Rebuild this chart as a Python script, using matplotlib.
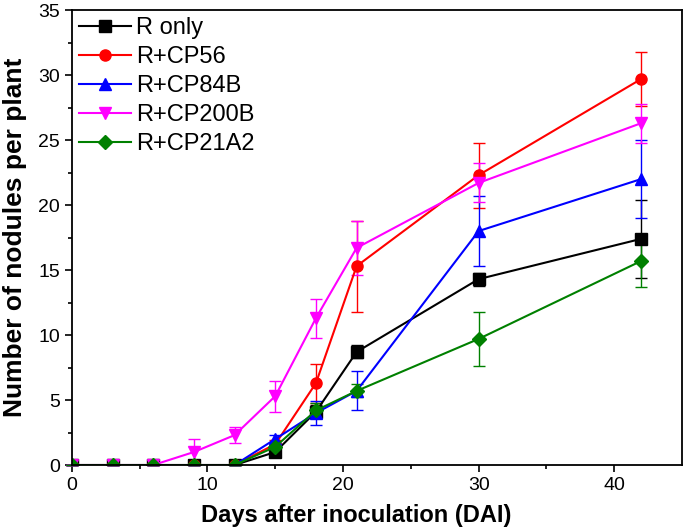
import matplotlib.pyplot as plt
import numpy as np

plt.rcParams['font.family'] = ['Liberation Sans', 'DejaVu Sans']

# Nodule counts per treatment (mean and error)
days = [0, 3, 6, 9, 12, 15, 18, 21, 30, 42]
r_only = [0, 0, 0, 0, 0, 1.0, 4.1, 8.7, 14.3, 17.4]
r_only_err = [0, 0, 0, 0, 0, 0.3, 0.5, 0.5, 0.5, 3.0]
cp56 = [0, 0, 0, 0, 0, 1.6, 6.3, 15.3, 22.3, 29.7]
cp56_err = [0, 0, 0, 0, 0, 0.3, 1.5, 3.5, 2.5, 2.1]
cp84b = [0, 0, 0, 0, 0, 2.0, 4.0, 5.7, 18.0, 22.0]
cp84b_err = [0, 0, 0, 0, 0, 0.3, 0.9, 1.5, 2.7, 3.0]
cp200b = [0, 0, 0, 1.0, 2.3, 5.3, 11.3, 16.7, 21.7, 26.3]
cp200b_err = [0, 0, 0, 1.0, 0.6, 1.2, 1.5, 2.1, 1.5, 1.5]
cp21a2 = [0, 0, 0, 0, 0, 1.4, 4.2, 5.7, 9.7, 15.7]
cp21a2_err = [0, 0, 0, 0, 0, 0.3, 0.6, 0.5, 2.05, 2.0]

series = [
    ('R only', r_only, r_only_err, 'black', 's'),
    ('R+CP56', cp56, cp56_err, 'red', 'o'),
    ('R+CP84B', cp84b, cp84b_err, 'blue', '^'),
    ('R+CP200B', cp200b, cp200b_err, 'magenta', 'v'),
    ('R+CP21A2', cp21a2, cp21a2_err, 'green', 'D'),
]

fig = plt.figure(figsize=(6.85, 5.30), dpi=100)
ax = fig.add_axes([0.105, 0.1226, 0.8906, 0.8585])

handles = []
for label, vals, err, color, marker in series:
    ms = 7 if marker == 'D' else 8
    cont = ax.errorbar(days, vals, yerr=err, color=color, marker=marker, markersize=ms,
                       linewidth=1.5, elinewidth=1, capsize=4, capthick=1, label=label)
    for c in cont[1] + cont[2]:
        c.set_clip_on(False)
    handles.append(cont[0])

ax.set_xlim(0, 45)
ax.set_ylim(0, 35)
ax.set_xticks([0, 10, 20, 30, 40])
ax.set_xticks(np.arange(0, 45, 5), minor=True)
ax.set_yticks(np.arange(0, 36, 5))
ax.set_yticks(np.arange(0, 35, 2.5), minor=True)
ax.tick_params(axis='both', which='major', direction='out', length=5, width=1.2, labelsize=14)
ax.tick_params(axis='both', which='minor', direction='out', length=3, width=1.2)
for s in ax.spines.values():
    s.set_linewidth(1.3)

ax.set_xlabel('Days after inoculation (DAI)', fontsize=17, fontweight='bold')
ax.xaxis.set_label_coords(0.466, -0.085)
ax.set_ylabel('Number of nodules per plant', fontsize=19, fontweight='bold', labelpad=8)

ax.legend(handles, [s[0] for s in series], loc='upper left', frameon=False, fontsize=17,
          handlelength=2.2, handletextpad=0.2, labelspacing=0.3,
          borderaxespad=0.1, borderpad=0.2)

fig.savefig('out.png', dpi=100)
